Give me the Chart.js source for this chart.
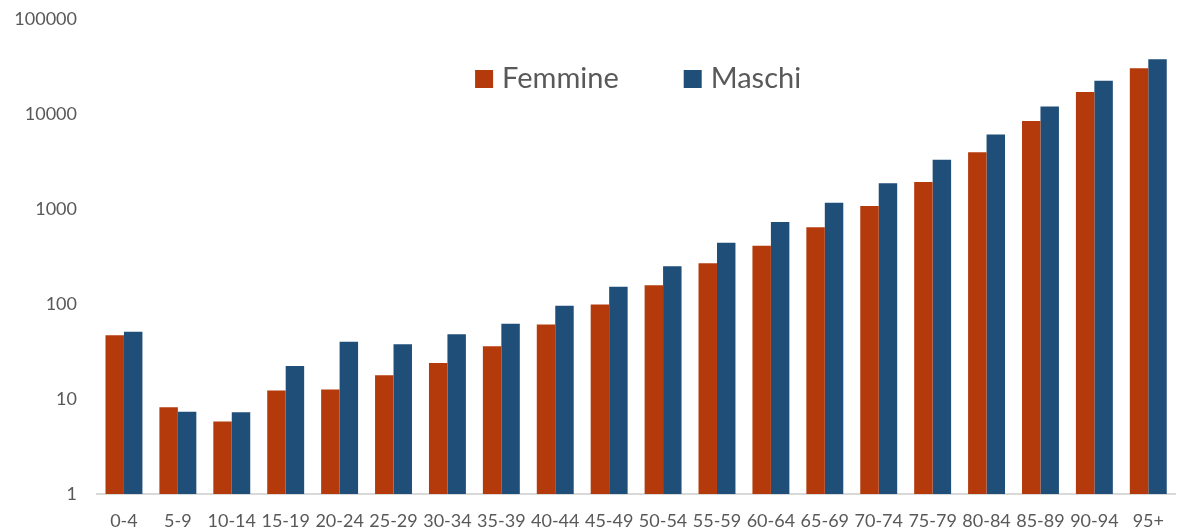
<!DOCTYPE html>
<html>
<head>
<meta charset="utf-8">
<script src="https://cdn.jsdelivr.net/npm/chart.js@4/dist/chart.umd.min.js"></script>
<style>
  html, body { margin: 0; padding: 0; background: #fff; }
  #wrap { width: 1180px; height: 529px; position: relative; }
</style>
</head>
<body>
<div id="wrap"><canvas id="myChart"></canvas></div>
<script>
// age groups
const categories = ['0-4', '5-9', '10-14', '15-19', '20-24', '25-29', '30-34', '35-39', '40-44', '45-49',
    '50-54', '55-59', '60-64', '65-69', '70-74', '75-79', '80-84', '85-89', '90-94', '95+'];

const femmine = [47, 8.2, 5.8, 12.3, 12.6, 17.8, 24, 36, 61, 99,
    158, 268, 411, 642, 1075, 1920, 3960, 8440, 17000, 30300];
const maschi = [51, 7.35, 7.25, 22.2, 40, 37.7, 48, 62, 96, 152,
    249, 442, 730, 1165, 1870, 3300, 6100, 12000, 22400, 37600];

const yTicks = [1, 10, 100, 1000, 10000, 100000];

const FONT = 'Lato, "Open Sans", sans-serif';
const TEXT = '#595959';
const RED = '#B43A0C';
const BLUE = '#1F4E79';

// legend drawn inside the plot area, centred at the top
const insideLegend = {
    id: 'insideLegend',
    afterDraw(chart) {
        const ctx = chart.ctx;
        const area = chart.chartArea;
        const box = 18, gap = 9, between = 65;
        ctx.save();
        ctx.font = '29px ' + FONT;
        ctx.textBaseline = 'middle';
        const items = chart.data.datasets.map(ds => ({
            text: ds.label,
            color: ds.backgroundColor,
            w: ctx.measureText(ds.label).width
        }));
        const total = items.reduce((s, it) => s + box + gap + it.w, 0) + between * (items.length - 1);
        let x = (area.left + area.right) / 2 - total / 2 + 2;
        const y = 79;
        items.forEach(it => {
            ctx.fillStyle = it.color;
            ctx.fillRect(x, y - box / 2, box, box);
            ctx.fillStyle = TEXT;
            ctx.fillText(it.text, x + box + gap, y);
            x += box + gap + it.w + between;
        });
        ctx.restore();
    }
};

const chart = new Chart(document.getElementById('myChart'), {
    type: 'bar',
    data: {
        labels: categories,
        datasets: [{
            label: 'Femmine',
            data: femmine,
            backgroundColor: RED,
            barPercentage: 1,
            categoryPercentage: 0.685
        }, {
            label: 'Maschi',
            data: maschi,
            backgroundColor: BLUE,
            barPercentage: 1,
            categoryPercentage: 0.685
        }]
    },
    options: {
        responsive: true,
        maintainAspectRatio: false,
        animation: false,
        layout: {
            padding: { top: 19, right: 2, left: 0, bottom: 0 }
        },
        plugins: {
            legend: { display: false },
            tooltip: { enabled: false }
        },
        scales: {
            x: {
                grid: { display: false, drawTicks: false },
                border: { display: true, color: '#d9d9d9', width: 2 },
                ticks: {
                    color: TEXT,
                    font: { family: FONT, size: 18 },
                    padding: 16,
                    autoSkip: false,
                    maxRotation: 0
                },
                afterFit: (scale) => { scale.height = 35; }
            },
            y: {
                type: 'logarithmic',
                min: 1,
                max: 100000,
                grid: { display: false, drawTicks: false },
                border: { display: false },
                ticks: {
                    color: TEXT,
                    font: { family: FONT, size: 18 },
                    padding: 20,
                    callback: (v) => String(v)
                },
                afterBuildTicks: (scale) => {
                    scale.ticks = yTicks.map(v => ({ value: v }));
                },
                afterFit: (scale) => {
                    scale.width = 97;
                    scale.paddingTop = 0;
                    scale.paddingBottom = 0;
                }
            }
        }
    },
    plugins: [insideLegend]
});
</script>
</body>
</html>
